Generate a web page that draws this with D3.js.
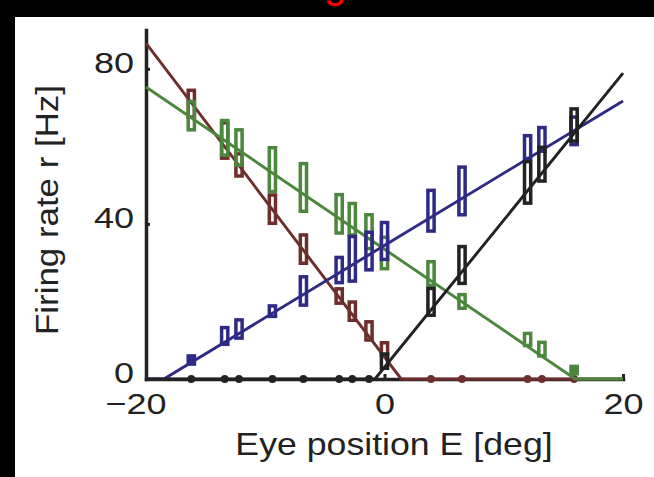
<!DOCTYPE html>
<html>
<head>
<meta charset="utf-8">
<script src="https://cdn.jsdelivr.net/npm/d3@7"></script>
<style>
  body { margin: 0; background: #000; }
  svg { display: block; }
  text { font-family: "Liberation Sans", Arial, Helvetica, sans-serif; fill: #222; }
</style>
</head>
<body>
<svg id="chart" width="654" height="477"></svg>
<script>
// eye positions (deg) shared by all four cells
const eyePos = [-16.2, -13.4, -12.2, -9.4, -6.8, -3.8, -2.7, -1.3, 0, 3.9, 6.5, 12.0, 13.2, 15.9];

// mean firing rate (Hz) and half height of the error box, per cell
const blueRate  = [4.9, 11.1, 12.9, 17.5, 22.7, 28.1, 31.0, 33.0, 35.6, 43.4, 48.5, 59.8, 61.8, 64.0];
const blueErr   = [1.5, 2.6, 2.8, 1.8, 4.1, 3.7, 6.2, 5.3, 5.2, 5.7, 6.6, 3.4, 3.5, 4.0];
const redRate   = [71.0, 61.5, 55.2, 43.8, 33.5, 21.4, 17.5, 12.4, 7.8, 0, 0, 0, 0, 0];
const redErr    = [3.9, 5.0, 3.3, 4.1, 4.1, 2.3, 2.8, 2.8, 2.0, 0, 0, 0, 0, 0];
const greenRate = [67.9, 62.2, 59.7, 54.0, 49.4, 42.6, 41.2, 38.0, 32.5, 27.2, 20.0, 10.2, 7.7, 2.3];
const greenErr  = [4.1, 4.9, 5.0, 6.1, 6.6, 5.4, 4.5, 4.8, 4.5, 3.5, 2.2, 2.0, 2.2, 1.4];
const blackRate = [0, 0, 0, 0, 0, 0, 0, 0, 4.6, 19.9, 29.4, 50.7, 55.4, 65.5];
const blackErr  = [0, 0, 0, 0, 0, 0, 0, 0, 2.3, 3.9, 5.2, 5.8, 4.8, 4.6];

// fitted rectified-linear tuning curves, [E, r] vertices
const blueFit  = [[-20, 0], [-18.5, 0], [20, 71.7]];
const redFit   = [[-20, 86.6], [1.4, 0], [20, 0]];
const greenFit = [[-20, 75.3], [16.0, 0], [20, 0]];
const blackFit = [[-20, 0], [-0.8, 0], [20, 78.9]];

const xTicks = [-20, 0, 20];
const yTicks = [0, 40, 80];

const svg = d3.select('#chart');

// white figure area inside the black frame strips
svg.append('rect').attr('x', 15).attr('y', 17).attr('width', 654 - 15).attr('height', 477 - 17).attr('fill', '#fff');

// cut-off red title (only its descender shows in the reference)
svg.append('text')
  .attr('x', 335).attr('y', -2)
  .attr('text-anchor', 'middle')
  .style('font-size', '40px')
  .style('fill', '#ff0000')
  .text('g');

const x = d3.scaleLinear().domain([-20, 20]).range([146, 623]);
const y = d3.scaleLinear().domain([0, 90]).range([379, 30]);

const sx = 1.2; // the reference text is stretched horizontally

// axes
const xAxisG = svg.append('g')
  .attr('transform', `translate(0,${y(0)})`)
  .call(d3.axisBottom(x).tickValues(xTicks).tickSizeInner(-5).tickSizeOuter(0).tickPadding(14));
const yAxisG = svg.append('g')
  .attr('transform', `translate(${x(-20)},0)`)
  .call(d3.axisLeft(y).tickValues(yTicks).tickSizeInner(-4).tickSizeOuter(0));

[xAxisG, yAxisG].forEach(g => {
  g.select('.domain').attr('stroke', '#222').attr('stroke-width', 3.5).attr('stroke-linecap', 'square');
  g.selectAll('.tick line').attr('stroke', '#222').attr('stroke-width', 3);
  g.selectAll('.tick text')
    .attr('fill', '#222')
    .style('font-size', '30px')
    .attr('transform', `scale(${sx},1)`);
});

// negative labels: centre the digits on the tick, let the minus hang left
xAxisG.selectAll('.tick text').each(function(d) {
  if (d < 0) {
    const full = this.getComputedTextLength();
    const t = this.textContent;
    this.textContent = String(Math.abs(d));
    const part = this.getComputedTextLength();
    this.textContent = t;
    d3.select(this).attr('dx', -(full - part) / 2);
  }
});
yAxisG.selectAll('.tick text').attr('x', -12 / sx).attr('dy', '0.13em');

// axis titles
svg.append('text')
  .attr('transform', `translate(394,455) scale(1.17,1)`)
  .attr('text-anchor', 'middle')
  .style('font-size', '30.5px')
  .text('Eye position E [deg]');
svg.append('text')
  .attr('transform', `translate(58,210) rotate(-90) scale(1.09,1)`)
  .attr('text-anchor', 'middle')
  .style('font-size', '32px')
  .text('Firing rate r [Hz]');

const line = d3.line().x(d => x(d[0])).y(d => y(d[1]));

const series = [
  { fit: redFit,   rate: redRate,   err: redErr,   color: '#6e2f2c' },
  { fit: greenFit, rate: greenRate, err: greenErr, color: '#4b873c' },
  { fit: blueFit,  rate: blueRate,  err: blueErr,  color: '#2f2a85' },
  { fit: blackFit, rate: blackRate, err: blackErr, color: '#222222' }
];

const boxW = 6.2, sw = 3.5;

series.forEach(s => {
  const g = svg.append('g');
  g.append('path')
    .datum(s.fit)
    .attr('d', line)
    .attr('fill', 'none')
    .attr('stroke', s.color)
    .attr('stroke-width', 2.9);

  const pts = eyePos.map((e, i) => ({ e: e, r: s.rate[i], err: s.err[i] }));

  g.selectAll('circle')
    .data(pts.filter(p => p.r === 0))
    .join('circle')
      .attr('cx', d => x(d.e))
      .attr('cy', y(0))
      .attr('r', 3.9)
      .attr('fill', s.color);

  g.selectAll('rect')
    .data(pts.filter(p => p.r > 0))
    .join('rect')
      .attr('x', d => x(d.e) - boxW / 2)
      .attr('y', d => y(d.r + d.err) + sw / 2)
      .attr('width', boxW)
      .attr('height', d => Math.max(y(d.r - d.err) - y(d.r + d.err) - sw, 0.5))
      .attr('fill', d => (y(d.r - d.err) - y(d.r + d.err) < 12 ? s.color : 'none'))
      .attr('stroke', s.color)
      .attr('stroke-width', sw);
});
</script>
</body>
</html>
